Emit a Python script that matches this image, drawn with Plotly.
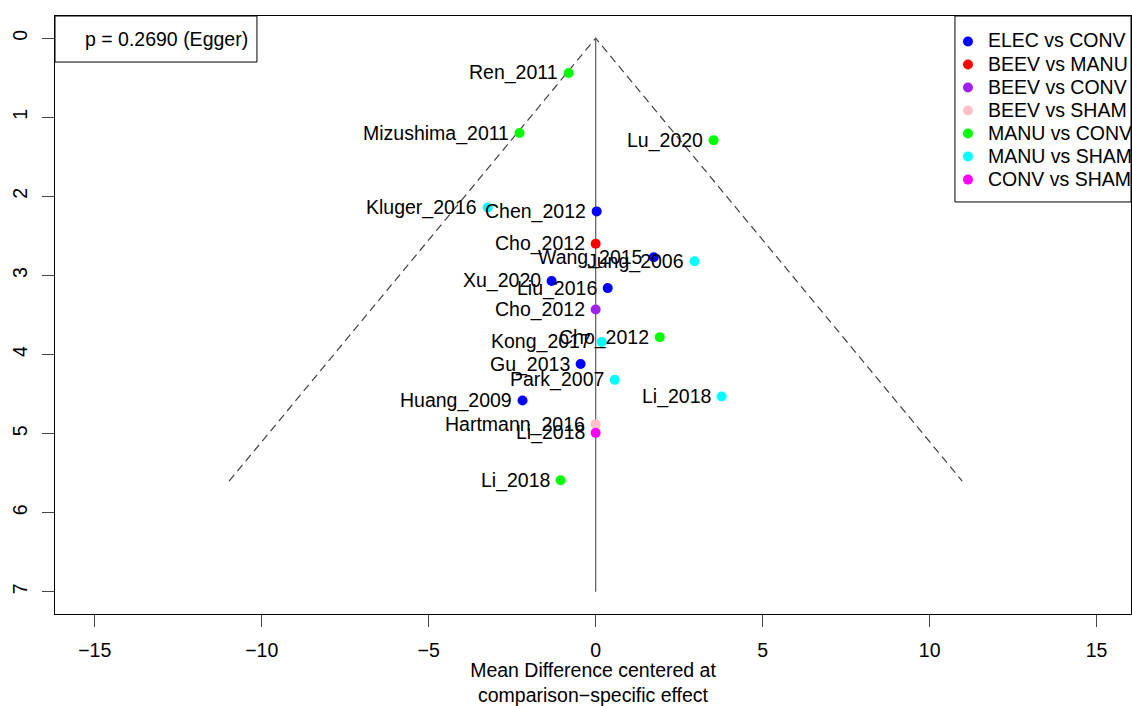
import plotly.graph_objects as go

# ---- data ----
studies = ["Ren_2011", "Mizushima_2011", "Lu_2020", "Kluger_2016", "Chen_2012",
           "Cho_2012", "Wang_2015", "Jung_2006", "Xu_2020", "Liu_2016",
           "Cho_2012", "Cho_2012", "Kong_2017", "Gu_2013", "Park_2007",
           "Li_2018", "Huang_2009", "Hartmann_2016", "Li_2018", "Li_2018"]
comparisons = ["MANU vs CONV", "MANU vs CONV", "MANU vs CONV", "MANU vs SHAM", "ELEC vs CONV",
               "BEEV vs MANU", "ELEC vs CONV", "MANU vs SHAM", "ELEC vs CONV", "ELEC vs CONV",
               "BEEV vs CONV", "MANU vs CONV", "MANU vs SHAM", "ELEC vs CONV", "MANU vs SHAM",
               "MANU vs SHAM", "ELEC vs CONV", "BEEV vs SHAM", "CONV vs SHAM", "MANU vs CONV"]
mean_diff = [-0.81, -2.28, 3.53, -3.23, 0.03,
             0.0, 1.74, 2.96, -1.32, 0.36,
             0.0, 1.92, 0.18, -0.45, 0.57,
             3.77, -2.19, 0.0, 0.0, -1.05]
std_err = [0.44, 1.20, 1.29, 2.14, 2.19,
           2.60, 2.77, 2.82, 3.07, 3.16,
           3.43, 3.78, 3.84, 4.12, 4.32,
           4.53, 4.58, 4.88, 4.99, 5.59]
legend_order = ["ELEC vs CONV", "BEEV vs MANU", "BEEV vs CONV", "BEEV vs SHAM",
                "MANU vs CONV", "MANU vs SHAM", "CONV vs SHAM"]
legend_colors = ["#0000FF", "#FF0000", "#A020F0", "#FFC0CB", "#00FF00", "#00FFFF", "#FF00FF"]
se_max = 5.6
z = 1.96
x_ticks = [-15, -10, -5, 0, 5, 10, 15]
y_ticks = [0, 1, 2, 3, 4, 5, 6, 7]
egger_text = "p = 0.2690 (Egger)"

FONT = "Liberation Sans, Arial, sans-serif"
FS = 19.5
fig = go.Figure()

# funnel lines
fig.add_trace(go.Scatter(x=[-z * se_max, 0, z * se_max], y=[se_max, 0, se_max],
                         mode="lines", line=dict(color="#404040", width=1.2, dash="8px,5px"),
                         showlegend=False, hoverinfo="skip"))
# vertical reference line
fig.add_trace(go.Scatter(x=[0, 0], y=[0, 7], mode="lines",
                         line=dict(color="#666666", width=1.3),
                         showlegend=False, hoverinfo="skip"))

for comp, col in zip(legend_order, legend_colors):
    xs = [m for m, c in zip(mean_diff, comparisons) if c == comp]
    ys = [s for s, c in zip(std_err, comparisons) if c == comp]
    fig.add_trace(go.Scatter(x=xs, y=ys, mode="markers",
                             name="<span style='font-size:19.5px'>%s</span>" % comp,
                             marker=dict(color=col, size=10, line=dict(width=0))))

for name, m, s in zip(studies, mean_diff, std_err):
    fig.add_annotation(x=m, y=s, text=name, showarrow=False, xanchor="right",
                       yanchor="middle", xshift=-9,
                       font=dict(family=FONT, size=FS, color="black"))

# Egger box
fig.add_shape(type="rect", xref="paper", yref="paper", x0=0, x1=0.1877, y0=0.923, y1=1,
              line=dict(color="black", width=1), fillcolor="white", layer="above")
fig.add_annotation(xref="paper", yref="paper", x=0.181, y=0.9615, text=egger_text,
                   showarrow=False, xanchor="right", yanchor="middle",
                   font=dict(family=FONT, size=FS, color="black"))
# legend box
fig.add_shape(type="rect", xref="paper", yref="paper", x0=0.8364, x1=1, y0=0.689, y1=1,
              line=dict(color="black", width=1), fillcolor="rgba(0,0,0,0)", layer="above")

fig.update_layout(
    width=1132, height=706, autosize=False,
    margin=dict(l=55, r=1, t=16, b=92, autoexpand=False),
    paper_bgcolor="white", plot_bgcolor="white",
    font=dict(family=FONT, size=FS, color="black"),
    legend=dict(x=1.0065, y=0.985, xanchor="right", yanchor="top",
                bgcolor="rgba(0,0,0,0)", borderwidth=0,
                font=dict(family=FONT, size=15.4, color="black"),
                itemwidth=30, tracegroupgap=0),
    xaxis=dict(range=[-16.19, 16.03], tickvals=x_ticks, showgrid=False, zeroline=False,
               showline=True, linecolor="black", linewidth=1, mirror=True,
               ticks="outside", ticklen=12, tickcolor="#444444", ticklabelstandoff=7,
               tickfont=dict(family=FONT, size=FS),
               title=dict(text="Mean Difference centered at<br>comparison\u2212specific effect",
                          font=dict(family=FONT, size=FS), standoff=8)),
    yaxis=dict(range=[7.28, -0.28], tickvals=y_ticks, showgrid=False, zeroline=False,
               showline=True, linecolor="black", linewidth=1, mirror=True,
               ticks="outside", ticklen=12, tickcolor="#444444", tickangle=-90,
               ticklabelstandoff=7,
               tickfont=dict(family=FONT, size=FS)),
)

fig.write_html(
    "out.html",
    config={"displayModeBar": False, "responsive": False},
    post_script="document.body.style.margin='0';document.body.style.overflow='hidden';",
)
